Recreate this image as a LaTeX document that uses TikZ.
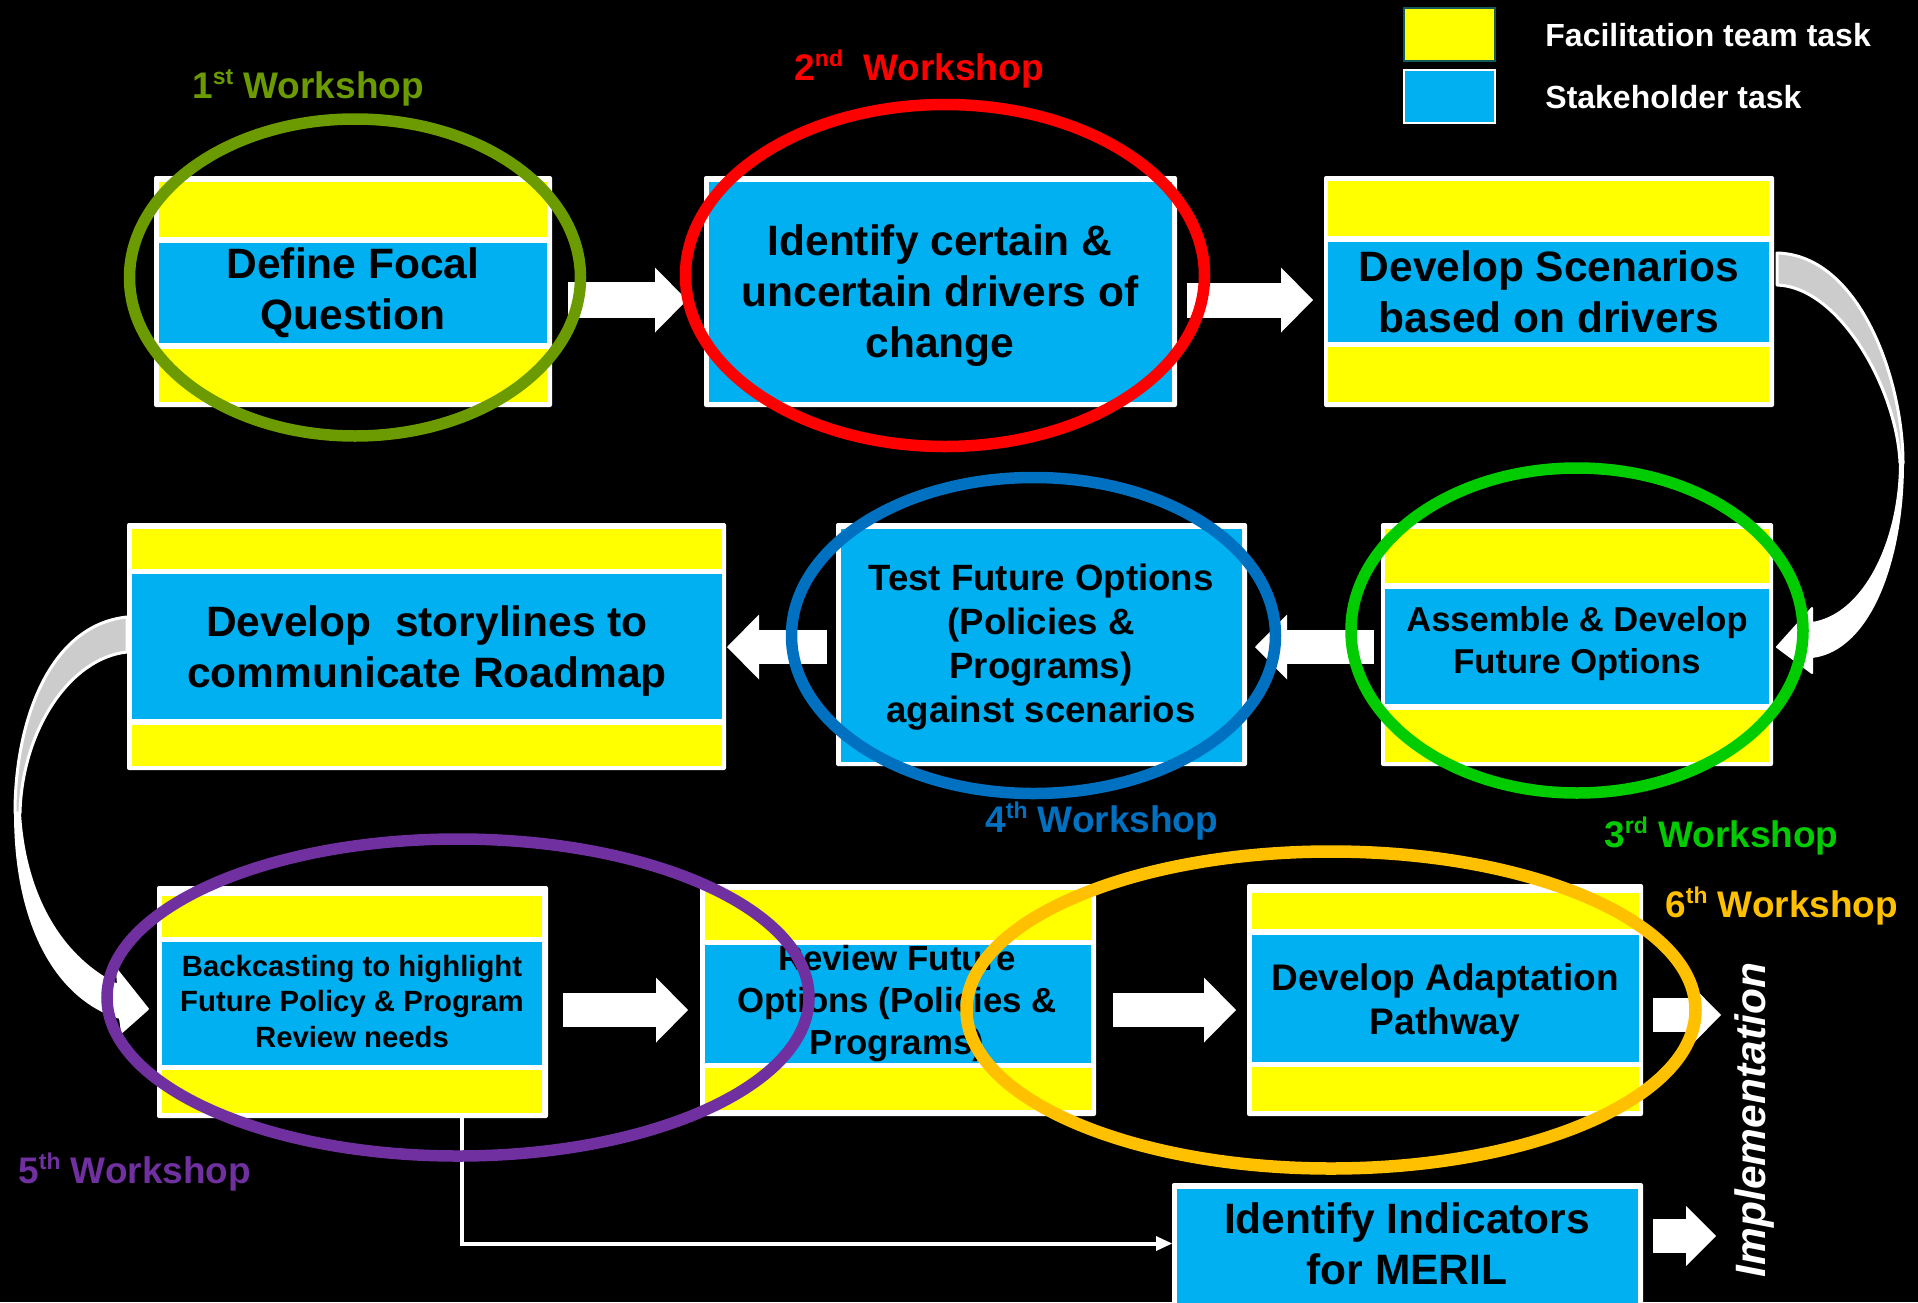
\documentclass[tikz,border=0pt]{standalone}
\usepackage{fontspec}
\usepackage{graphicx}
\setmainfont{Liberation Sans}
\usetikzlibrary{arrows.meta,calc}

\definecolor{taskblue}{RGB}{0,176,240}
\definecolor{taskyellow}{RGB}{255,255,0}
\definecolor{wsolive}{RGB}{107,155,0}
\definecolor{wsred}{RGB}{255,0,0}
\definecolor{wsgreen}{RGB}{0,204,0}
\definecolor{wsblue}{RGB}{0,112,192}
\definecolor{wspurple}{RGB}{112,48,160}
\definecolor{wsorange}{RGB}{255,192,0}
\definecolor{twistgray}{RGB}{204,204,204}
\definecolor{legedge}{RGB}{20,90,90}

% ordinal suffix (st, nd, rd, th)
\newcommand{\ordsup}[1]{\raisebox{0.36em}{\scalebox{0.62}{#1}}}

% white frame of a task box: name, x0, y0, x1, y1 (grid units, y runs downwards)
\newcommand{\taskframe}[5]{%
  \node[frame, minimum width={(#4-#2)*0.5pt}, minimum height={(#5-#3)*0.5pt}] (#1) at ({(#2+#4)/2},{(#3+#5)/2}) {};}
% coloured band inside a frame
\newcommand{\band}[5]{\fill[#1] (#2,#3) rectangle (#4,#5);}

\begin{document}
\begin{tikzpicture}[x=0.5pt, y=-0.5pt,
  frame/.style={fill=white, rounded corners=1pt, inner sep=0pt, outer sep=0pt},
  boxtext/.style={align=center, inner sep=0pt, text=black},
  fbig/.style={font=\fontsize{21.25}{25.5}\selectfont\bfseries},
  ftest/.style={font=\fontsize{18.3}{22}\selectfont\bfseries},
  fassemble/.style={font=\fontsize{17.25}{20.7}\selectfont\bfseries},
  fback/.style={font=\fontsize{14.65}{17.6}\selectfont\bfseries},
  freview/.style={font=\fontsize{17.4}{20.9}\selectfont\bfseries},
  fadapt/.style={font=\fontsize{18.5}{22.4}\selectfont\bfseries},
  blockarrow/.style={draw=white, line width=17pt, -{Triangle[length=16pt,width=32.5pt,line width=0pt]}},
  wslabel/.style={anchor=base west, inner sep=0pt, font=\fontsize{18.5}{22}\selectfont\bfseries},
  legtext/.style={anchor=base west, inner sep=0pt, text=white, font=\fontsize{16}{19}\selectfont\bfseries},
  legsq/.style={minimum width=45.5pt, minimum height=26.5pt, inner sep=0pt, line width=1pt},
  ring/.style={line width=5.75pt},
  twist/.style={draw=white, line width=1.5pt, line join=round},
]
\fill[black] (0,0) rectangle (1918,1302);
\useasboundingbox (0,0) rectangle (1918,1302);
\clip (0,0) rectangle (1918,1302);

% ---------- task boxes ----------
\taskframe{b1}{154}{176}{552}{407}
\band{taskyellow}{159}{182}{547}{237}
\band{taskblue}{159}{243}{547}{343}
\band{taskyellow}{159}{349}{547}{402}

\taskframe{b2}{704}{176}{1177}{407}
\band{taskblue}{709}{182}{1172}{402}

\taskframe{b3}{1324}{176}{1774}{407}
\band{taskyellow}{1328}{181}{1769}{236}
\band{taskblue}{1328}{242}{1769}{342}
\band{taskyellow}{1328}{347}{1769}{402}

\taskframe{b4}{127}{523}{726}{770}
\band{taskyellow}{132}{529}{722}{569}
\band{taskblue}{132}{574}{722}{719}
\band{taskyellow}{132}{725}{722}{766}

\taskframe{b5}{836}{523}{1247}{766}
\band{taskblue}{841}{529}{1242}{762}

\taskframe{b6}{1381}{523}{1773}{766}
\band{taskyellow}{1385}{529}{1769}{583}
\band{taskblue}{1385}{589}{1769}{704}
\band{taskyellow}{1385}{710}{1769}{762}

\taskframe{b7}{157}{886}{548}{1118}
\band{taskyellow}{162}{896}{542}{937}
\band{taskblue}{162}{942}{542}{1065}
\band{taskyellow}{162}{1070}{542}{1113}

\taskframe{b8}{700}{884}{1096}{1116}
\band{taskyellow}{705}{890}{1091}{940}
\band{taskblue}{705}{945}{1091}{1063}
\band{taskyellow}{705}{1068}{1091}{1110}

\taskframe{b9}{1247}{884}{1643}{1116}
\band{taskyellow}{1252}{893}{1639}{929}
\band{taskblue}{1252}{935}{1639}{1062}
\band{taskyellow}{1252}{1067}{1639}{1111}

\taskframe{b10}{1172}{1183}{1643}{1304}
\band{taskblue}{1177}{1189}{1638}{1304}

% ---------- box texts ----------
\node[boxtext, fbig] (t1) at (353,292.5) {Define Focal\\Question};
\node[boxtext, fbig] (t2) at (940,295.5) {Identify certain \&\\uncertain drivers of\\change};
\node[boxtext, fbig] (t3) at (1549,292) {Develop Scenarios\\based on drivers};
\node[boxtext, fbig] (t4) at (427,651.5) {Develop~ storylines to\\communicate Roadmap};
\node[boxtext, ftest] (t5) at (1041,647) {Test Future Options\\(Policies \&\\Programs)\\against scenarios};
\node[boxtext, fassemble] (t6) at (1577,643.5) {Assemble \& Develop\\Future Options};
\node[boxtext, fback] (t7) at (352,1001.5) {Backcasting to highlight\\Future Policy \& Program\\Review needs};
\node[boxtext, freview] (t8) at (897,1003.5) {Review Future\\Options (Policies \&\\Programs)};
\node[boxtext, fadapt] (t9) at (1445,1003) {Develop Adaptation\\Pathway};
\node[boxtext, fbig] (t10) at (1407,1243.5) {Identify Indicators\\for MERIL};

% ---------- block arrows ----------
\draw[blockarrow, line width=18pt] ([xshift=8pt,yshift=-4.25pt]b1.east) -- ([xshift=-8.5pt,yshift=-4.25pt]b2.west);
\draw[blockarrow, line width=17.5pt] ([xshift=5pt,yshift=-4.25pt]b2.east) -- ([xshift=-5.5pt,yshift=-4.25pt]b3.west);
\draw[blockarrow] ([xshift=-3.5pt,yshift=-1.25pt]b6.west) -- ([xshift=4pt,yshift=-1.25pt]b5.east);
\draw[blockarrow] ([xshift=-4.5pt,yshift=-1.25pt]b5.west) -- ([xshift=0.5pt,yshift=-0.25pt]b4.east);
\draw[blockarrow] ([xshift=7.5pt,yshift=-4pt]b7.east) -- ([xshift=-6pt,yshift=-5pt]b8.west);
\draw[blockarrow] ([xshift=8.5pt,yshift=-5pt]b8.east) -- ([xshift=-5.5pt,yshift=-5pt]b9.west);
\coordinate (imp1) at (1721,1015);
\coordinate (imp2) at (1716,1236);
\draw[blockarrow] ([xshift=5pt,yshift=-7.5pt]b9.east) -- (imp1);
\draw[blockarrow, -{Triangle[length=15pt,width=30pt,line width=0pt]}] ([xshift=5pt,yshift=3.75pt]b10.east) -- (imp2);

% ---------- twisted curved arrows ----------
% from "Develop Scenarios" down to "Assemble & Develop"
\filldraw[twist, fill=twistgray] (1777,253) .. controls (1860,255) and (1903,380) .. (1903,463)
  -- (1900,463) .. controls (1897,390) and (1840,287) .. (1777,285) -- cycle;
\filldraw[twist, fill=white, line width=1pt] (1903,463) .. controls (1903,560) and (1870,650) .. (1812,657)
  -- (1812,673) -- (1777,647) -- (1812,608) -- (1812,623)
  .. controls (1865,615) and (1900,540) .. (1900,463) -- cycle;
% from "Develop storylines" down to "Backcasting"
\filldraw[twist, fill=twistgray] (127,617) .. controls (50,625) and (15,720) .. (15,813)
  -- (20,813) .. controls (22,730) and (70,658) .. (127,652) -- cycle;
\filldraw[twist, fill=white, line width=1pt] (15,813) .. controls (15,930) and (60,1000) .. (120,1018)
  -- (122,1032) -- (148,1009) -- (117,970) -- (118,985)
  .. controls (65,960) and (25,900) .. (20,813) -- cycle;

% ---------- branch to indicators ----------
\draw[white, line width=2pt, -{Triangle[length=8pt,width=7.5pt,line width=0pt]}]
  ([xshift=54.75pt]b7.south) |- (b10.west);

% ---------- workshop rings ----------
\draw[ring, wsolive] (355,277.5) ellipse [x radius=112.75pt, y radius=79.25pt];
\draw[ring, wsred] (945,275.5) ellipse [x radius=129.75pt, y radius=85.5pt];
\draw[ring, wsblue] (1033.5,635.5) ellipse [x radius=121pt, y radius=79pt];
\draw[ring, wsgreen] (1577,630.5) ellipse [x radius=113pt, y radius=81.25pt];
\draw[ring, wspurple] (458,997.5) ellipse [x radius=175.5pt, y radius=79.25pt];
\draw[ring, wsorange, line width=6.25pt] (1331,1010) ellipse [x radius=182.25pt, y radius=79.25pt];

% ---------- workshop labels ----------
\node[wslabel, text=wsolive] (w1) at (192,98) {1\ordsup{st} Workshop};
\node[wslabel, text=wsred] (w2) at (794,80) {2\ordsup{nd}~ Workshop};
\node[wslabel, text=wsgreen] (w3) at (1604,847) {3\ordsup{rd} Workshop};
\node[wslabel, text=wsblue] (w4) at (985,832) {4\ordsup{th} Workshop};
\node[wslabel, text=wspurple] (w5) at (18,1183) {5\ordsup{th} Workshop};
\node[wslabel, text=wsorange] (w6) at (1665,917) {6\ordsup{th} Workshop};

% ---------- implementation ----------
\node[rotate=90, anchor=base, inner sep=0pt, text=white,
      font=\fontsize{21.25}{25}\selectfont\bfseries\itshape] (impl) at (1765,1120) {Implementation};

% ---------- legend ----------
\node[legsq, fill=taskyellow, draw=legedge] (legY) at (1449.5,34.5) {};
\node[legsq, fill=taskblue, draw=white] (legB) at (1449.5,96.5) {};
\node[legtext] (legYt) at (1545,46) {Facilitation team task};
\node[legtext] (legBt) at (1545,108) {Stakeholder task};
\end{tikzpicture}
\end{document}
